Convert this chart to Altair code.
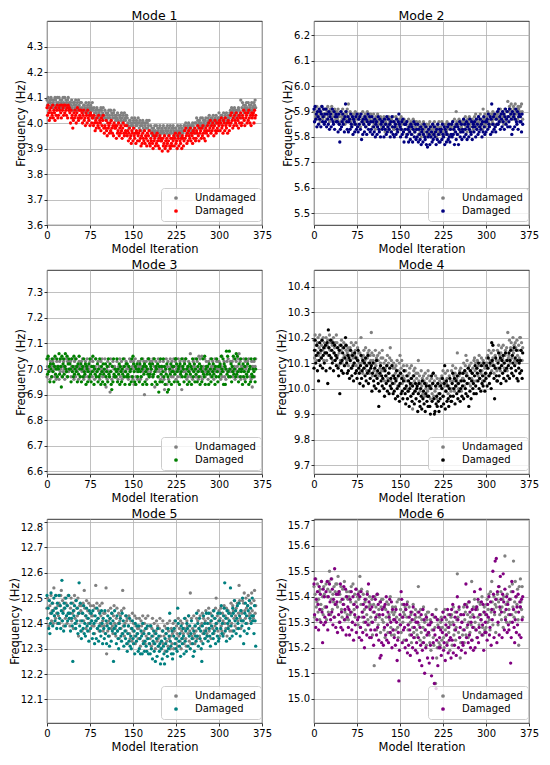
import altair as alt
import pandas as pd

x_ticks = [0, 75, 150, 225, 300, 375]

mode1_undamaged = [
    4.09, 4.07, 4.10, 4.08, 4.06, 4.09, 4.08, 4.10, 4.07, 4.09, 4.06, 4.08, 4.09, 4.07, 4.10, 4.09, 4.07, 4.08, 4.10, 4.06,
    4.08, 4.10, 4.07, 4.09, 4.06, 4.08, 4.09, 4.07, 4.10, 4.08, 4.07, 4.10, 4.06, 4.09, 4.08, 4.07, 4.09, 4.10, 4.07, 4.08,
    4.06, 4.08, 4.07, 4.09, 4.06, 4.05, 4.08, 4.07, 4.08, 4.06, 4.09, 4.07, 4.05, 4.08, 4.06, 4.09, 4.07, 4.06, 4.08, 4.08,
    4.08, 4.06, 4.05, 4.04, 4.07, 4.07, 4.06, 4.05, 4.08, 4.05, 4.06, 4.07, 4.04, 4.08, 4.06, 4.05, 4.07, 4.05, 4.06, 4.08,
    4.05, 4.03, 4.06, 4.04, 4.02, 4.05, 4.04, 4.06, 4.03, 4.05, 4.02, 4.04, 4.05, 4.03, 4.06, 4.05, 4.03, 4.04, 4.06, 4.02,
    4.03, 4.05, 4.02, 4.04, 4.01, 4.03, 4.04, 4.02, 4.05, 4.03, 4.02, 4.05, 4.01, 4.04, 4.03, 4.02, 4.04, 4.05, 4.02, 4.03,
    4.01, 4.03, 4.02, 4.04, 4.01, 4.00, 4.03, 4.02, 4.03, 4.01, 4.04, 4.02, 4.00, 4.03, 4.01, 4.04, 4.02, 4.01, 4.03, 4.03,
    4.02, 4.00, 3.99, 3.98, 4.01, 4.01, 4.00, 3.99, 4.02, 3.99, 4.00, 4.01, 3.98, 4.02, 4.00, 3.99, 4.01, 3.99, 4.00, 4.02,
    4.00, 3.98, 4.01, 3.99, 3.97, 4.00, 3.99, 4.01, 3.98, 4.00, 3.97, 3.99, 4.00, 3.98, 4.01, 4.00, 3.98, 3.99, 4.01, 3.97,
    3.97, 3.99, 3.96, 3.98, 3.95, 3.97, 3.98, 3.96, 3.99, 3.97, 3.96, 3.99, 3.95, 3.98, 3.97, 3.96, 3.98, 3.99, 3.96, 3.97,
    3.96, 3.98, 3.97, 3.99, 3.96, 3.95, 3.98, 3.97, 3.98, 3.96, 3.99, 3.97, 3.95, 3.98, 3.96, 3.99, 3.97, 3.96, 3.98, 3.98,
    3.99, 3.97, 3.96, 3.95, 3.98, 3.98, 3.97, 3.96, 3.99, 3.96, 3.97, 3.98, 3.95, 3.99, 3.97, 3.96, 3.98, 3.96, 3.97, 3.99,
    3.99, 3.97, 4.00, 3.98, 3.96, 3.99, 3.98, 4.00, 3.97, 3.99, 3.96, 3.98, 3.99, 3.97, 4.00, 3.99, 3.97, 3.98, 4.00, 3.96,
    4.00, 4.02, 3.99, 4.01, 3.98, 4.00, 4.01, 3.99, 4.02, 4.00, 3.99, 4.02, 3.98, 4.01, 4.00, 3.99, 4.01, 4.02, 3.99, 4.00,
    4.00, 4.02, 4.01, 4.03, 4.00, 3.99, 4.02, 4.01, 4.02, 4.00, 4.03, 4.01, 3.99, 4.02, 4.00, 4.03, 4.01, 4.00, 4.02, 4.02,
    4.04, 4.02, 4.01, 4.00, 4.03, 4.03, 4.02, 4.01, 4.04, 4.01, 4.02, 4.03, 4.00, 4.04, 4.02, 4.01, 4.03, 4.01, 4.02, 4.04,
    4.05, 4.03, 4.06, 4.04, 4.02, 4.05, 4.04, 4.06, 4.03, 4.05, 4.02, 4.04, 4.05, 4.03, 4.06, 4.05, 4.03, 4.04, 4.09, 4.02,
    4.06, 4.08, 4.05, 4.07, 4.04, 4.06, 4.07, 4.05, 4.08, 4.06, 4.05, 4.08, 4.04, 4.07, 4.06, 4.05, 4.07, 4.08, 4.05, 4.06,
    4.06, 4.08, 4.07, 4.09, 4.06,
]

mode1_damaged = [
    4.06, 4.03, 4.07, 4.04, 4.01, 4.05, 4.02, 4.06, 4.04, 4.03, 4.07, 4.02, 4.05, 4.04, 4.01, 4.06, 4.03, 4.05, 4.07, 4.02,
    4.03, 4.06, 4.05, 4.07, 4.04, 4.02, 4.07, 4.05, 4.06, 4.03, 4.07, 4.04, 4.07, 4.05, 4.03, 4.06, 4.02, 4.07, 4.05, 4.06,
    4.04, 4.00, 4.05, 4.02, 4.03, 3.98, 4.01, 4.04, 4.02, 4.05, 4.03, 4.00, 4.04, 4.06, 4.02, 4.01, 4.05, 4.03, 4.02, 4.05,
    4.02, 4.04, 4.00, 4.03, 4.05, 4.01, 4.02, 3.99, 4.04, 4.03, 4.00, 4.05, 4.02, 4.01, 4.03, 3.99, 4.04, 4.03, 4.00, 4.02,
    4.02, 3.99, 4.03, 4.00, 3.97, 4.01, 3.98, 4.02, 4.00, 3.99, 4.03, 3.98, 4.01, 4.00, 3.97, 4.02, 3.99, 4.01, 4.03, 3.98,
    3.96, 3.99, 3.98, 4.01, 3.97, 3.95, 4.00, 3.98, 3.99, 3.96, 4.00, 3.97, 4.01, 3.98, 3.96, 3.99, 3.95, 4.00, 3.98, 3.99,
    3.98, 3.94, 3.99, 3.96, 3.97, 4.00, 3.95, 3.98, 3.96, 3.99, 3.97, 3.94, 3.98, 4.00, 3.96, 3.95, 3.99, 3.97, 3.96, 3.99,
    3.95, 3.97, 3.93, 3.96, 3.98, 3.94, 3.95, 3.92, 3.97, 3.96, 3.93, 3.98, 3.95, 3.94, 3.96, 3.92, 3.97, 3.96, 3.93, 3.95,
    3.96, 3.93, 3.97, 3.94, 3.91, 3.95, 3.92, 3.96, 3.94, 3.93, 3.97, 3.92, 3.95, 3.94, 3.91, 3.96, 3.93, 3.95, 3.97, 3.92,
    3.91, 3.94, 3.93, 3.96, 3.92, 3.90, 3.95, 3.93, 3.94, 3.91, 3.95, 3.92, 3.96, 3.93, 3.91, 3.94, 3.90, 3.95, 3.93, 3.94,
    3.93, 3.89, 3.94, 3.91, 3.92, 3.95, 3.90, 3.93, 3.91, 3.94, 3.92, 3.89, 3.93, 3.95, 3.91, 3.90, 3.94, 3.92, 3.91, 3.94,
    3.93, 3.95, 3.91, 3.94, 3.96, 3.92, 3.93, 3.90, 3.95, 3.94, 3.91, 3.96, 3.93, 3.92, 3.94, 3.90, 3.95, 3.94, 3.91, 3.93,
    3.97, 3.94, 3.98, 3.95, 3.92, 3.96, 3.93, 3.97, 3.95, 3.94, 3.98, 3.93, 3.96, 3.95, 3.92, 3.97, 3.94, 3.96, 3.98, 3.93,
    3.94, 3.97, 3.96, 3.99, 3.95, 3.93, 3.98, 3.96, 3.97, 3.94, 3.98, 3.95, 3.99, 3.96, 3.94, 3.97, 3.93, 3.98, 3.96, 3.97,
    3.99, 3.95, 4.00, 3.97, 3.98, 4.01, 3.96, 3.99, 3.97, 4.00, 3.98, 3.95, 3.99, 4.01, 3.97, 3.96, 4.00, 3.98, 3.97, 4.00,
    3.99, 4.01, 3.97, 4.00, 4.02, 3.98, 3.99, 3.96, 4.01, 4.00, 3.97, 4.02, 3.99, 3.98, 4.00, 3.96, 4.01, 4.00, 3.97, 3.99,
    4.03, 4.00, 4.04, 4.01, 3.98, 4.02, 3.99, 4.03, 4.01, 4.00, 4.04, 3.99, 4.02, 4.01, 3.98, 4.03, 4.00, 4.02, 4.04, 3.99,
    4.00, 4.03, 4.02, 4.05, 4.01, 3.99, 4.04, 4.02, 4.03, 4.00, 4.04, 4.01, 4.05, 4.02, 4.00, 4.03, 3.99, 4.04, 4.02, 4.03,
    4.04, 4.00, 4.05, 4.02, 4.03,
]

mode2_undamaged = [
    5.90, 5.86, 5.91, 5.88, 5.89, 5.92, 5.87, 5.90, 5.88, 5.91, 5.89, 5.86, 5.90, 5.92, 5.88, 5.87, 5.91, 5.89, 5.88, 5.91,
    5.89, 5.91, 5.87, 5.90, 5.92, 5.88, 5.89, 5.86, 5.91, 5.90, 5.87, 5.92, 5.89, 5.88, 5.90, 5.86, 5.91, 5.90, 5.87, 5.89,
    5.90, 5.87, 5.91, 5.88, 5.85, 5.89, 5.86, 5.90, 5.88, 5.87, 5.91, 5.86, 5.89, 5.88, 5.85, 5.90, 5.87, 5.89, 5.91, 5.86,
    5.93, 5.88, 5.87, 5.90, 5.86, 5.84, 5.89, 5.87, 5.88, 5.85, 5.89, 5.86, 5.90, 5.87, 5.85, 5.88, 5.84, 5.89, 5.87, 5.88,
    5.88, 5.84, 5.89, 5.86, 5.87, 5.90, 5.85, 5.88, 5.86, 5.89, 5.87, 5.84, 5.88, 5.90, 5.86, 5.85, 5.89, 5.87, 5.86, 5.89,
    5.86, 5.88, 5.84, 5.87, 5.89, 5.85, 5.86, 5.83, 5.88, 5.87, 5.84, 5.89, 5.86, 5.85, 5.87, 5.83, 5.88, 5.87, 5.84, 5.86,
    5.87, 5.84, 5.88, 5.85, 5.82, 5.86, 5.83, 5.87, 5.85, 5.84, 5.88, 5.83, 5.86, 5.85, 5.82, 5.87, 5.84, 5.86, 5.88, 5.83,
    5.83, 5.86, 5.85, 5.88, 5.84, 5.82, 5.87, 5.85, 5.86, 5.83, 5.87, 5.84, 5.88, 5.85, 5.83, 5.86, 5.82, 5.87, 5.85, 5.86,
    5.85, 5.81, 5.86, 5.83, 5.84, 5.87, 5.82, 5.85, 5.83, 5.86, 5.84, 5.81, 5.85, 5.87, 5.83, 5.82, 5.86, 5.84, 5.83, 5.86,
    5.83, 5.85, 5.81, 5.84, 5.86, 5.82, 5.83, 5.80, 5.85, 5.84, 5.81, 5.86, 5.83, 5.82, 5.84, 5.80, 5.85, 5.84, 5.81, 5.83,
    5.85, 5.82, 5.86, 5.83, 5.80, 5.84, 5.81, 5.85, 5.83, 5.82, 5.86, 5.81, 5.84, 5.83, 5.80, 5.85, 5.82, 5.84, 5.86, 5.81,
    5.81, 5.84, 5.83, 5.86, 5.82, 5.80, 5.85, 5.83, 5.84, 5.81, 5.85, 5.82, 5.86, 5.83, 5.81, 5.84, 5.80, 5.85, 5.83, 5.84,
    5.85, 5.81, 5.86, 5.83, 5.84, 5.87, 5.82, 5.85, 5.90, 5.86, 5.84, 5.81, 5.85, 5.87, 5.83, 5.82, 5.86, 5.84, 5.83, 5.86,
    5.85, 5.87, 5.83, 5.86, 5.88, 5.84, 5.85, 5.82, 5.87, 5.86, 5.83, 5.88, 5.85, 5.84, 5.86, 5.82, 5.87, 5.86, 5.83, 5.85,
    5.88, 5.85, 5.89, 5.86, 5.83, 5.87, 5.84, 5.88, 5.86, 5.85, 5.89, 5.84, 5.87, 5.86, 5.83, 5.91, 5.85, 5.87, 5.89, 5.84,
    5.85, 5.88, 5.87, 5.90, 5.86, 5.84, 5.89, 5.87, 5.88, 5.85, 5.89, 5.86, 5.90, 5.87, 5.85, 5.88, 5.84, 5.89, 5.87, 5.88,
    5.89, 5.85, 5.90, 5.87, 5.88, 5.91, 5.86, 5.89, 5.87, 5.90, 5.88, 5.85, 5.89, 5.91, 5.87, 5.86, 5.90, 5.88, 5.94, 5.90,
    5.90, 5.92, 5.88, 5.91, 5.93, 5.89, 5.90, 5.87, 5.92, 5.91, 5.88, 5.93, 5.90, 5.89, 5.91, 5.87, 5.92, 5.91, 5.88, 5.90,
    5.92, 5.89, 5.93, 5.90, 5.87,
]

mode2_damaged = [
    5.91, 5.86, 5.92, 5.87, 5.89, 5.84, 5.90, 5.88, 5.85, 5.91, 5.87, 5.90, 5.84, 5.89, 5.92, 5.86, 5.88, 5.91, 5.85, 5.89,
    5.86, 5.91, 5.84, 5.89, 5.87, 5.85, 5.90, 5.83, 5.88, 5.89, 5.84, 5.87, 5.91, 5.86, 5.85, 5.90, 5.83, 5.88, 5.89, 5.86,
    5.88, 5.86, 5.82, 5.89, 5.85, 5.78, 5.83, 5.90, 5.84, 5.86, 5.89, 5.85, 5.87, 5.82, 5.88, 5.93, 5.90, 5.86, 5.83, 5.88,
    5.82, 5.86, 5.87, 5.83, 5.89, 5.85, 5.84, 5.88, 5.81, 5.87, 5.86, 5.82, 5.85, 5.88, 5.83, 5.89, 5.84, 5.82, 5.87, 5.85,
    5.88, 5.83, 5.89, 5.79, 5.86, 5.81, 5.87, 5.85, 5.82, 5.88, 5.84, 5.87, 5.81, 5.86, 5.89, 5.83, 5.85, 5.88, 5.82, 5.86,
    5.83, 5.88, 5.81, 5.86, 5.84, 5.82, 5.87, 5.80, 5.85, 5.86, 5.81, 5.84, 5.88, 5.83, 5.82, 5.87, 5.80, 5.85, 5.86, 5.83,
    5.86, 5.84, 5.80, 5.87, 5.83, 5.85, 5.81, 5.88, 5.82, 5.84, 5.87, 5.83, 5.85, 5.80, 5.86, 5.82, 5.88, 5.84, 5.81, 5.86,
    5.80, 5.84, 5.85, 5.81, 5.87, 5.83, 5.82, 5.86, 5.89, 5.85, 5.84, 5.80, 5.83, 5.86, 5.81, 5.87, 5.82, 5.78, 5.85, 5.83,
    5.85, 5.80, 5.86, 5.81, 5.83, 5.78, 5.84, 5.82, 5.79, 5.85, 5.81, 5.84, 5.78, 5.83, 5.86, 5.80, 5.82, 5.85, 5.79, 5.83,
    5.80, 5.85, 5.78, 5.83, 5.81, 5.79, 5.84, 5.77, 5.82, 5.83, 5.78, 5.81, 5.85, 5.80, 5.79, 5.84, 5.77, 5.82, 5.76, 5.80,
    5.83, 5.81, 5.77, 5.84, 5.80, 5.82, 5.78, 5.85, 5.79, 5.81, 5.84, 5.80, 5.82, 5.77, 5.83, 5.79, 5.85, 5.81, 5.78, 5.83,
    5.78, 5.82, 5.83, 5.79, 5.85, 5.81, 5.80, 5.84, 5.77, 5.83, 5.82, 5.78, 5.81, 5.84, 5.79, 5.85, 5.80, 5.78, 5.83, 5.81,
    5.85, 5.80, 5.86, 5.81, 5.83, 5.77, 5.84, 5.82, 5.79, 5.85, 5.81, 5.84, 5.77, 5.83, 5.86, 5.80, 5.82, 5.85, 5.79, 5.83,
    5.82, 5.87, 5.80, 5.85, 5.83, 5.81, 5.86, 5.79, 5.84, 5.85, 5.80, 5.83, 5.87, 5.82, 5.81, 5.86, 5.79, 5.84, 5.85, 5.82,
    5.86, 5.84, 5.80, 5.87, 5.83, 5.85, 5.81, 5.88, 5.82, 5.84, 5.87, 5.83, 5.85, 5.80, 5.86, 5.82, 5.88, 5.84, 5.81, 5.86,
    5.82, 5.86, 5.87, 5.83, 5.89, 5.85, 5.84, 5.88, 5.81, 5.87, 5.93, 5.82, 5.85, 5.88, 5.83, 5.89, 5.84, 5.82, 5.87, 5.85,
    5.90, 5.85, 5.91, 5.86, 5.88, 5.83, 5.89, 5.87, 5.84, 5.90, 5.86, 5.89, 5.83, 5.88, 5.91, 5.85, 5.87, 5.90, 5.84, 5.88,
    5.86, 5.91, 5.84, 5.89, 5.87, 5.81, 5.90, 5.83, 5.88, 5.89, 5.84, 5.87, 5.91, 5.86, 5.85, 5.90, 5.83, 5.88, 5.89, 5.86,
    5.88, 5.86, 5.82, 5.89, 5.85,
]

mode3_undamaged = [
    6.97, 7.01, 7.00, 7.04, 6.99, 6.96, 7.03, 7.00, 7.01, 6.97, 7.03, 6.99, 7.04, 7.00, 6.97, 7.01, 6.96, 7.03, 7.00, 7.01,
    7.01, 6.96, 7.03, 6.99, 7.00, 7.04, 6.97, 7.01, 6.99, 7.03, 7.00, 6.96, 7.01, 7.04, 6.99, 6.97, 7.03, 7.00, 6.99, 7.03,
    7.00, 7.03, 6.97, 7.01, 7.04, 6.99, 7.00, 6.96, 7.03, 7.01, 6.97, 7.04, 7.00, 6.99, 7.01, 6.96, 7.03, 7.01, 6.97, 7.00,
    7.03, 6.99, 7.04, 7.00, 6.96, 7.01, 6.97, 7.03, 7.00, 6.99, 7.04, 6.97, 7.01, 7.00, 6.96, 7.03, 6.99, 7.01, 7.04, 6.97,
    7.03, 6.99, 7.00, 6.96, 7.01, 7.04, 6.97, 7.00, 6.99, 7.03, 6.97, 7.01, 6.96, 7.00, 7.03, 6.99, 7.04, 6.97, 7.00, 6.99,
    6.99, 7.04, 6.97, 6.93, 7.00, 6.96, 7.03, 6.99, 7.01, 6.97, 6.91, 7.04, 6.99, 6.96, 7.01, 7.03, 6.97, 7.00, 7.01, 6.97,
    7.00, 6.97, 7.03, 6.99, 6.96, 7.01, 7.00, 7.04, 6.97, 6.99, 7.03, 6.96, 7.00, 7.01, 6.99, 7.04, 6.97, 6.99, 7.03, 7.00,
    6.97, 7.01, 6.96, 7.00, 7.04, 6.99, 7.03, 6.97, 7.00, 7.01, 6.96, 7.03, 6.94, 7.00, 7.04, 6.97, 7.01, 6.99, 6.96, 7.03,
    7.01, 7.00, 7.03, 6.96, 7.01, 6.97, 7.00, 7.04, 6.99, 7.03, 6.90, 7.01, 7.00, 7.03, 6.96, 6.99, 7.04, 7.00, 7.04, 6.97,
    7.03, 6.99, 7.00, 7.03, 6.97, 7.04, 7.04, 7.01, 6.93, 7.00, 7.03, 6.99, 7.01, 6.97, 7.04, 7.00, 6.99, 7.03, 6.96, 7.01,
    7.00, 6.97, 7.01, 7.03, 6.96, 6.92, 6.99, 7.00, 7.04, 6.94, 7.01, 7.03, 6.96, 7.00, 6.99, 7.04, 7.01, 6.97, 7.03, 7.00,
    6.97, 7.04, 7.01, 6.99, 7.03, 6.96, 7.00, 7.01, 6.97, 7.04, 6.99, 7.00, 7.03, 6.97, 7.01, 6.92, 7.00, 7.04, 6.99, 7.03,
    7.03, 6.99, 7.04, 7.00, 6.96, 7.01, 6.97, 7.03, 7.00, 6.99, 7.06, 6.97, 7.01, 7.00, 6.96, 7.03, 6.99, 7.01, 7.04, 6.97,
    7.00, 6.97, 7.03, 6.99, 6.96, 7.05, 7.00, 7.04, 6.97, 6.99, 7.05, 6.96, 7.00, 7.01, 6.99, 7.04, 6.97, 6.99, 7.03, 7.00,
    7.01, 6.96, 7.03, 6.99, 7.00, 7.04, 6.97, 7.01, 6.99, 7.03, 7.00, 6.96, 7.01, 7.04, 6.99, 6.97, 7.03, 7.00, 6.99, 7.03,
    7.03, 6.99, 7.00, 6.96, 7.01, 7.05, 6.97, 7.00, 6.99, 7.03, 6.97, 7.01, 6.96, 7.00, 7.03, 6.99, 7.04, 6.97, 7.00, 6.99,
    7.03, 6.99, 7.00, 7.03, 6.97, 6.99, 7.04, 7.01, 6.96, 7.00, 7.03, 6.99, 7.01, 6.97, 7.04, 7.06, 6.99, 7.03, 6.96, 7.01,
    6.97, 7.01, 7.00, 7.04, 6.99, 6.96, 7.03, 7.00, 7.01, 6.97, 7.03, 6.99, 7.04, 7.00, 6.97, 7.01, 6.96, 7.03, 6.93, 7.01,
    7.00, 7.03, 6.97, 7.01, 7.04,
]

mode3_damaged = [
    7.04, 6.98, 7.05, 6.99, 7.01, 6.95, 7.02, 7.00, 6.97, 7.04, 6.99, 7.02, 6.95, 7.01, 7.05, 6.98, 7.00, 7.04, 6.97, 7.01,
    7.00, 7.06, 6.98, 7.04, 7.01, 6.93, 7.05, 6.97, 7.02, 7.04, 6.98, 7.01, 7.06, 7.00, 6.99, 7.05, 6.97, 7.02, 7.04, 7.00,
    7.02, 7.00, 6.95, 7.04, 6.99, 7.01, 6.97, 7.05, 6.98, 7.00, 7.04, 6.99, 7.01, 6.95, 7.02, 6.98, 7.05, 7.00, 6.97, 7.02,
    6.95, 7.00, 7.01, 6.97, 7.04, 6.99, 6.98, 7.02, 6.94, 7.01, 7.00, 6.95, 6.99, 7.02, 6.97, 7.04, 6.98, 6.95, 7.01, 6.99,
    7.05, 7.01, 6.94, 7.00, 6.98, 7.04, 6.97, 6.99, 7.02, 6.95, 7.00, 6.97, 7.04, 6.98, 6.94, 7.01, 6.99, 6.95, 7.02, 6.98,
    7.00, 6.94, 7.02, 6.97, 6.99, 7.01, 6.95, 7.04, 6.98, 6.97, 7.02, 6.99, 6.94, 6.92, 7.01, 6.95, 7.04, 6.98, 6.97, 7.00,
    6.97, 6.99, 7.04, 6.95, 7.00, 6.98, 7.02, 6.94, 7.01, 6.99, 6.95, 7.00, 6.98, 7.04, 6.97, 7.01, 6.94, 6.99, 7.02, 6.97,
    7.02, 6.98, 6.97, 7.01, 6.94, 6.99, 7.00, 6.95, 7.04, 6.97, 7.05, 7.02, 6.99, 6.95, 7.01, 6.94, 7.00, 7.02, 6.97, 6.99,
    7.00, 6.95, 7.02, 6.99, 6.97, 7.04, 7.00, 6.94, 7.01, 6.98, 7.02, 6.95, 6.99, 7.01, 6.94, 7.00, 6.98, 7.04, 6.97, 7.02,
    6.98, 7.01, 7.00, 6.94, 7.02, 6.97, 6.98, 7.04, 6.99, 6.95, 7.01, 7.00, 6.94, 7.02, 6.97, 6.91, 7.01, 6.95, 7.04, 6.98,
    7.01, 6.95, 6.99, 7.04, 6.97, 7.01, 6.94, 7.00, 6.98, 7.02, 6.91, 6.97, 6.92, 6.95, 7.00, 6.98, 7.02, 6.94, 6.99, 7.01,
    6.99, 7.01, 6.95, 6.98, 7.04, 7.04, 7.02, 6.99, 6.95, 7.00, 7.01, 6.94, 7.02, 6.98, 6.99, 7.04, 6.97, 7.01, 7.00, 6.95,
    7.02, 6.97, 7.04, 6.98, 7.00, 6.94, 7.01, 6.99, 6.95, 7.02, 6.98, 7.01, 6.94, 7.00, 7.04, 6.97, 6.99, 7.02, 6.95, 7.00,
    6.98, 7.04, 6.95, 7.01, 6.99, 6.97, 7.02, 6.94, 7.00, 7.01, 6.95, 6.99, 7.04, 6.98, 6.97, 7.05, 6.94, 7.00, 7.01, 6.98,
    7.01, 6.99, 6.94, 7.02, 6.98, 7.00, 6.95, 7.04, 6.97, 6.99, 7.02, 6.98, 7.00, 6.94, 7.01, 6.97, 7.04, 6.99, 6.95, 7.01,
    6.97, 7.01, 7.02, 6.98, 7.05, 7.00, 6.99, 7.04, 6.94, 7.02, 7.01, 6.94, 7.00, 7.07, 6.98, 7.05, 6.99, 6.97, 7.07, 7.00,
    6.97, 7.02, 6.95, 7.01, 6.99, 7.05, 6.98, 7.00, 7.04, 6.97, 7.06, 6.98, 7.05, 6.99, 6.95, 7.02, 7.00, 6.97, 7.04, 6.99,
    7.00, 6.94, 7.02, 6.97, 6.99, 7.01, 6.95, 7.04, 6.98, 6.97, 7.02, 6.99, 6.94, 7.00, 7.01, 6.95, 7.04, 6.98, 6.97, 7.00,
    6.97, 6.99, 7.04, 6.95, 7.00,
]

mode4_undamaged = [
    10.19, 10.12, 10.21, 10.15, 10.17, 10.11, 10.18, 10.20, 10.13, 10.16, 10.21, 10.14, 10.12, 10.17, 10.19, 10.15, 10.20, 10.11, 10.18, 10.16,
    10.14, 10.20, 10.11, 10.17, 10.19, 10.13, 10.16, 10.21, 10.15, 10.18, 10.12, 10.19, 10.17, 10.11, 10.20, 10.14, 10.16, 10.18, 10.13, 10.21,
    10.18, 10.13, 10.16, 10.09, 10.14, 10.17, 10.11, 10.15, 10.19, 10.10, 10.16, 10.12, 10.18, 10.13, 10.09, 10.17, 10.15, 10.11, 10.14, 10.16,
    10.09, 10.15, 10.13, 10.16, 10.11, 10.18, 10.08, 10.14, 10.12, 10.17, 10.10, 10.13, 10.15, 10.18, 10.09, 10.12, 10.16, 10.11, 10.14, 10.10,
    10.14, 10.07, 10.20, 10.10, 10.12, 10.06, 10.13, 10.15, 10.08, 10.11, 10.16, 10.09, 10.07, 10.12, 10.14, 10.10, 10.15, 10.06, 10.13, 10.11,
    10.22, 10.14, 10.05, 10.11, 10.13, 10.07, 10.10, 10.15, 10.09, 10.12, 10.06, 10.13, 10.11, 10.05, 10.14, 10.08, 10.10, 10.12, 10.07, 10.15,
    10.12, 10.07, 10.10, 10.03, 10.08, 10.11, 10.05, 10.09, 10.13, 10.04, 10.10, 10.06, 10.12, 10.16, 10.03, 10.11, 10.09, 10.05, 10.08, 10.10,
    10.02, 10.08, 10.06, 10.09, 10.04, 10.11, 10.01, 10.07, 10.05, 10.10, 10.13, 10.06, 10.08, 10.11, 10.02, 10.05, 10.09, 10.04, 10.07, 10.03,
    10.07, 10.00, 10.09, 10.03, 10.05, 9.99, 10.06, 10.08, 10.01, 10.04, 10.09, 10.02, 9.92, 10.05, 10.07, 10.03, 10.08, 9.99, 10.06, 10.04,
    10.00, 10.06, 10.11, 10.03, 10.05, 9.99, 10.02, 10.07, 10.01, 10.04, 9.98, 10.05, 10.03, 9.97, 10.06, 10.00, 10.02, 10.04, 9.99, 10.07,
    10.05, 10.00, 10.03, 9.96, 10.01, 10.04, 9.98, 10.02, 10.06, 9.97, 10.03, 9.99, 10.05, 10.00, 9.96, 10.04, 10.02, 9.98, 10.01, 10.03,
    9.98, 10.04, 10.02, 10.05, 10.00, 10.07, 9.97, 10.03, 10.01, 10.06, 9.99, 10.02, 10.04, 10.07, 9.98, 10.01, 10.05, 10.00, 10.03, 9.99,
    10.07, 10.00, 10.09, 10.03, 10.05, 9.99, 10.06, 10.08, 10.01, 10.04, 10.14, 10.02, 10.00, 10.05, 10.07, 10.03, 10.08, 9.99, 10.06, 10.04,
    10.04, 10.10, 10.01, 10.07, 10.09, 10.13, 10.06, 10.11, 10.05, 10.08, 10.02, 10.09, 10.07, 10.01, 10.10, 10.04, 10.06, 10.08, 10.03, 10.11,
    10.12, 10.07, 10.10, 10.03, 10.08, 10.11, 10.05, 10.09, 10.13, 10.04, 10.10, 10.06, 10.12, 10.07, 10.03, 10.11, 10.09, 10.05, 10.08, 10.10,
    10.06, 10.12, 10.10, 10.13, 10.08, 10.15, 10.05, 10.11, 10.09, 10.14, 10.07, 10.10, 10.12, 10.15, 10.06, 10.09, 10.13, 10.08, 10.11, 10.07,
    10.15, 10.08, 10.17, 10.11, 10.13, 10.07, 10.14, 10.16, 10.09, 10.12, 10.17, 10.10, 10.08, 10.13, 10.15, 10.11, 10.16, 10.07, 10.22, 10.12,
    10.13, 10.19, 10.10, 10.16, 10.18, 10.12, 10.15, 10.20, 10.14, 10.17, 10.11, 10.18, 10.16, 10.10, 10.19, 10.13, 10.15, 10.17, 10.12, 10.20,
    10.20, 10.15, 10.18, 10.11, 10.16,
]

mode4_damaged = [
    10.08, 10.15, 10.19, 10.10, 10.13, 10.17, 10.07, 10.14, 10.03, 10.11, 10.18, 10.09, 10.15, 10.12, 10.19, 10.08, 10.13, 10.16, 10.10, 10.14,
    10.17, 10.07, 10.14, 10.18, 10.02, 10.23, 10.16, 10.13, 10.08, 10.19, 10.12, 10.15, 10.10, 10.18, 10.07, 10.14, 10.17, 10.11, 10.13, 10.09,
    10.12, 10.16, 10.08, 10.05, 10.15, 9.98, 10.10, 10.17, 10.07, 10.11, 10.14, 10.06, 10.16, 10.09, 10.12, 10.20, 10.17, 10.10, 10.06, 10.13,
    10.07, 10.12, 10.04, 10.11, 10.15, 10.08, 10.05, 10.13, 10.09, 10.03, 10.10, 10.14, 10.06, 10.12, 10.07, 10.04, 10.11, 10.15, 10.08, 10.06,
    10.02, 10.09, 10.13, 10.04, 10.07, 10.11, 10.01, 10.08, 10.10, 10.05, 10.12, 10.03, 10.09, 10.06, 10.13, 10.02, 10.07, 10.10, 10.04, 10.08,
    10.09, 9.99, 10.06, 10.10, 10.03, 10.01, 10.08, 10.05, 10.00, 10.11, 10.04, 10.07, 10.02, 9.93, 9.99, 10.06, 10.09, 10.03, 10.05, 10.01,
    10.04, 10.08, 10.00, 9.97, 10.07, 10.05, 10.02, 10.09, 9.99, 10.03, 10.06, 9.98, 10.08, 10.01, 10.04, 10.00, 10.09, 10.02, 9.98, 10.05,
    9.99, 10.04, 9.96, 10.03, 10.07, 10.00, 9.97, 10.05, 10.01, 9.95, 10.02, 10.06, 9.98, 10.04, 9.99, 9.96, 10.03, 10.07, 10.00, 9.98,
    9.94, 10.01, 10.05, 9.96, 9.99, 10.03, 9.93, 10.00, 10.02, 9.97, 10.04, 9.95, 10.01, 9.98, 10.05, 9.94, 9.99, 10.02, 9.96, 10.00,
    10.01, 9.91, 9.98, 10.02, 9.95, 9.93, 10.00, 9.97, 9.92, 10.03, 9.96, 9.99, 9.94, 10.02, 9.91, 9.98, 10.01, 9.95, 9.97, 9.93,
    9.97, 10.01, 9.93, 9.90, 10.00, 10.05, 9.95, 10.02, 10.06, 9.96, 9.90, 9.91, 10.01, 9.94, 9.97, 9.93, 10.02, 9.95, 9.91, 9.98,
    9.96, 10.01, 9.93, 10.00, 10.04, 9.97, 9.94, 10.02, 10.09, 9.92, 9.99, 10.03, 9.95, 10.01, 9.96, 9.93, 10.00, 10.04, 9.97, 9.95,
    9.95, 10.02, 10.06, 9.97, 10.00, 10.04, 9.94, 10.01, 10.03, 9.98, 10.05, 9.96, 10.02, 9.99, 10.06, 9.95, 10.00, 10.03, 9.97, 10.01,
    10.06, 9.96, 10.03, 10.07, 10.00, 9.98, 10.05, 10.02, 9.97, 10.08, 9.93, 10.04, 9.99, 10.07, 9.96, 10.03, 10.06, 10.00, 10.02, 9.98,
    10.05, 10.09, 10.01, 9.98, 10.08, 10.06, 10.03, 10.10, 10.00, 10.04, 10.07, 9.99, 10.09, 10.02, 10.05, 10.01, 10.10, 10.03, 9.99, 10.06,
    10.04, 10.09, 10.01, 10.08, 10.12, 10.05, 10.02, 10.10, 10.06, 10.00, 10.18, 10.11, 10.17, 10.09, 10.04, 9.96, 10.08, 10.12, 10.05, 10.03,
    10.03, 10.10, 10.14, 10.05, 10.08, 10.12, 10.02, 10.09, 10.11, 10.06, 10.13, 10.04, 10.10, 10.07, 10.14, 10.03, 10.08, 10.11, 10.05, 10.09,
    10.14, 10.04, 10.11, 10.15, 10.08, 10.06, 10.13, 10.10, 10.05, 10.16, 10.09, 10.12, 10.07, 10.15, 10.04, 10.11, 10.03, 10.08, 10.10, 10.06,
    10.11, 10.15, 10.07, 10.04, 10.14,
]

mode5_undamaged = [
    12.46, 12.50, 12.42, 12.39, 12.49, 12.47, 12.44, 12.51, 12.41, 12.45, 12.48, 12.40, 12.54, 12.43, 12.46, 12.42, 12.51, 12.44, 12.40, 12.47,
    12.43, 12.48, 12.40, 12.47, 12.51, 12.53, 12.41, 12.49, 12.45, 12.39, 12.46, 12.50, 12.42, 12.48, 12.43, 12.40, 12.47, 12.51, 12.44, 12.42,
    12.39, 12.46, 12.50, 12.41, 12.44, 12.48, 12.38, 12.45, 12.51, 12.42, 12.49, 12.40, 12.46, 12.43, 12.50, 12.35, 12.44, 12.47, 12.41, 12.45,
    12.47, 12.37, 12.44, 12.48, 12.41, 12.53, 12.46, 12.43, 12.38, 12.49, 12.42, 12.45, 12.40, 12.48, 12.37, 12.44, 12.47, 12.41, 12.43, 12.39,
    12.43, 12.47, 12.39, 12.36, 12.46, 12.55, 12.41, 12.48, 12.38, 12.42, 12.45, 12.37, 12.47, 12.40, 12.43, 12.39, 12.48, 12.41, 12.37, 12.44,
    12.39, 12.44, 12.36, 12.54, 12.28, 12.40, 12.37, 12.45, 12.41, 12.35, 12.42, 12.46, 12.38, 12.44, 12.39, 12.36, 12.43, 12.47, 12.40, 12.38,
    12.35, 12.42, 12.46, 12.37, 12.40, 12.44, 12.34, 12.41, 12.43, 12.38, 12.45, 12.36, 12.53, 12.39, 12.46, 12.35, 12.40, 12.43, 12.37, 12.41,
    12.42, 12.32, 12.39, 12.43, 12.36, 12.34, 12.41, 12.38, 12.33, 12.44, 12.37, 12.40, 12.35, 12.43, 12.32, 12.39, 12.42, 12.36, 12.38, 12.34,
    12.38, 12.42, 12.34, 12.31, 12.41, 12.39, 12.36, 12.43, 12.33, 12.37, 12.40, 12.32, 12.42, 12.35, 12.38, 12.34, 12.43, 12.36, 12.32, 12.39,
    12.34, 12.39, 12.31, 12.38, 12.42, 12.35, 12.32, 12.40, 12.36, 12.30, 12.37, 12.41, 12.33, 12.39, 12.34, 12.31, 12.38, 12.42, 12.35, 12.33,
    12.30, 12.37, 12.41, 12.32, 12.35, 12.39, 12.29, 12.36, 12.38, 12.33, 12.40, 12.31, 12.37, 12.34, 12.41, 12.30, 12.35, 12.38, 12.32, 12.36,
    12.40, 12.30, 12.37, 12.41, 12.34, 12.32, 12.39, 12.36, 12.31, 12.42, 12.35, 12.38, 12.33, 12.41, 12.30, 12.37, 12.40, 12.34, 12.36, 12.32,
    12.38, 12.42, 12.34, 12.31, 12.41, 12.39, 12.36, 12.43, 12.33, 12.37, 12.52, 12.32, 12.42, 12.35, 12.38, 12.34, 12.43, 12.36, 12.32, 12.39,
    12.37, 12.42, 12.34, 12.41, 12.45, 12.38, 12.35, 12.43, 12.39, 12.33, 12.40, 12.44, 12.36, 12.42, 12.37, 12.34, 12.41, 12.45, 12.38, 12.36,
    12.35, 12.42, 12.46, 12.37, 12.40, 12.44, 12.34, 12.41, 12.43, 12.38, 12.45, 12.36, 12.42, 12.39, 12.46, 12.50, 12.40, 12.43, 12.37, 12.41,
    12.45, 12.35, 12.42, 12.46, 12.39, 12.37, 12.44, 12.41, 12.36, 12.47, 12.40, 12.43, 12.38, 12.46, 12.35, 12.42, 12.45, 12.39, 12.41, 12.37,
    12.44, 12.48, 12.40, 12.37, 12.47, 12.45, 12.42, 12.49, 12.39, 12.43, 12.46, 12.38, 12.48, 12.41, 12.44, 12.55, 12.49, 12.42, 12.38, 12.45,
    12.44, 12.49, 12.41, 12.48, 12.52, 12.45, 12.42, 12.50, 12.46, 12.40, 12.47, 12.51, 12.43, 12.49, 12.44, 12.41, 12.48, 12.52, 12.45, 12.43,
    12.42, 12.49, 12.53, 12.44, 12.47,
]

mode5_damaged = [
    12.51, 12.42, 12.46, 12.38, 12.49, 12.36, 12.40, 12.52, 12.44, 12.48, 12.39, 12.45, 12.50, 12.43, 12.41, 12.51, 12.46, 12.38, 12.48, 12.44,
    12.40, 12.51, 12.42, 12.47, 12.38, 12.45, 12.57, 12.41, 12.44, 12.37, 12.48, 12.46, 12.39, 12.50, 12.43, 12.47, 12.41, 12.44, 12.51, 12.42,
    12.44, 12.37, 12.48, 12.42, 12.39, 12.25, 12.45, 12.43, 12.47, 12.40, 12.38, 12.49, 12.41, 12.46, 12.36, 12.44, 12.56, 12.39, 12.48, 12.37,
    12.34, 12.41, 12.44, 12.38, 12.47, 12.36, 12.40, 12.35, 12.43, 12.46, 12.39, 12.37, 12.42, 12.33, 12.45, 12.40, 12.38, 12.44, 12.41, 12.34,
    12.45, 12.36, 12.40, 12.32, 12.43, 12.41, 12.34, 12.46, 12.38, 12.42, 12.33, 12.39, 12.44, 12.37, 12.35, 12.45, 12.40, 12.32, 12.42, 12.38,
    12.34, 12.45, 12.36, 12.41, 12.32, 12.39, 12.43, 12.35, 12.38, 12.31, 12.42, 12.40, 12.33, 12.44, 12.37, 12.41, 12.25, 12.38, 12.45, 12.36,
    12.39, 12.32, 12.43, 12.37, 12.34, 12.30, 12.40, 12.38, 12.42, 12.35, 12.33, 12.44, 12.36, 12.41, 12.31, 12.39, 12.37, 12.34, 12.43, 12.32,
    12.29, 12.36, 12.39, 12.33, 12.42, 12.31, 12.35, 12.30, 12.38, 12.41, 12.34, 12.32, 12.37, 12.28, 12.40, 12.35, 12.33, 12.39, 12.36, 12.29,
    12.39, 12.30, 12.34, 12.28, 12.37, 12.35, 12.28, 12.40, 12.32, 12.36, 12.29, 12.33, 12.38, 12.31, 12.29, 12.39, 12.34, 12.28, 12.36, 12.32,
    12.28, 12.39, 12.30, 12.35, 12.26, 12.33, 12.37, 12.29, 12.32, 12.25, 12.36, 12.34, 12.27, 12.38, 12.31, 12.35, 12.29, 12.32, 12.24, 12.30,
    12.33, 12.26, 12.37, 12.31, 12.28, 12.24, 12.34, 12.32, 12.36, 12.29, 12.27, 12.38, 12.30, 12.35, 12.44, 12.33, 12.31, 12.28, 12.37, 12.26,
    12.28, 12.35, 12.38, 12.32, 12.41, 12.30, 12.34, 12.29, 12.46, 12.40, 12.33, 12.31, 12.36, 12.27, 12.39, 12.34, 12.32, 12.38, 12.35, 12.28,
    12.42, 12.33, 12.37, 12.29, 12.40, 12.38, 12.31, 12.43, 12.35, 12.39, 12.30, 12.36, 12.41, 12.34, 12.32, 12.27, 12.37, 12.29, 12.39, 12.35,
    12.33, 12.44, 12.35, 12.40, 12.31, 12.38, 12.42, 12.34, 12.37, 12.30, 12.25, 12.39, 12.32, 12.43, 12.36, 12.40, 12.34, 12.37, 12.44, 12.35,
    12.40, 12.33, 12.44, 12.38, 12.35, 12.31, 12.41, 12.39, 12.43, 12.36, 12.34, 12.45, 12.37, 12.42, 12.32, 12.40, 12.38, 12.35, 12.44, 12.33,
    12.34, 12.41, 12.44, 12.38, 12.47, 12.36, 12.40, 12.35, 12.43, 12.46, 12.56, 12.37, 12.42, 12.33, 12.45, 12.40, 12.38, 12.44, 12.41, 12.34,
    12.54, 12.39, 12.43, 12.35, 12.46, 12.44, 12.37, 12.49, 12.41, 12.45, 12.36, 12.42, 12.47, 12.40, 12.38, 12.48, 12.43, 12.35, 12.45, 12.41,
    12.39, 12.50, 12.41, 12.32, 12.37, 12.44, 12.48, 12.40, 12.43, 12.36, 12.47, 12.45, 12.38, 12.49, 12.42, 12.46, 12.40, 12.43, 12.50, 12.41,
    12.43, 12.36, 12.47, 12.41, 12.31,
]

mode6_undamaged = [
    15.44, 15.32, 15.41, 15.47, 15.36, 15.38, 15.45, 15.34, 15.39, 15.42, 15.31, 15.43, 15.37, 15.46, 15.35, 15.40, 15.33, 15.44, 15.41, 15.36,
    15.36, 15.45, 15.31, 15.40, 15.43, 15.34, 15.46, 15.50, 15.42, 15.33, 15.39, 15.47, 15.35, 15.41, 15.38, 15.44, 15.32, 15.42, 15.45, 15.37,
    15.45, 15.36, 15.48, 15.42, 15.30, 15.41, 15.38, 15.44, 15.35, 15.32, 15.43, 15.39, 15.37, 15.46, 15.34, 15.31, 15.40, 15.42, 15.33, 15.39,
    15.31, 15.40, 15.42, 15.33, 15.38, 15.44, 15.34, 15.30, 15.45, 15.37, 15.35, 15.41, 15.32, 15.38, 15.43, 15.36, 15.40, 15.29, 15.39, 15.42,
    15.48, 15.28, 15.37, 15.43, 15.32, 15.34, 15.41, 15.30, 15.35, 15.38, 15.27, 15.39, 15.33, 15.42, 15.31, 15.36, 15.29, 15.40, 15.37, 15.32,
    15.30, 15.39, 15.25, 15.34, 15.37, 15.13, 15.40, 15.31, 15.36, 15.27, 15.33, 15.41, 15.29, 15.35, 15.32, 15.38, 15.26, 15.36, 15.39, 15.31,
    15.39, 15.30, 15.27, 15.36, 15.24, 15.35, 15.32, 15.38, 15.29, 15.26, 15.37, 15.33, 15.31, 15.40, 15.28, 15.25, 15.34, 15.36, 15.27, 15.33,
    15.25, 15.34, 15.36, 15.27, 15.32, 15.38, 15.28, 15.24, 15.39, 15.31, 15.29, 15.35, 15.26, 15.32, 15.37, 15.30, 15.34, 15.23, 15.33, 15.36,
    15.35, 15.23, 15.32, 15.38, 15.27, 15.29, 15.36, 15.25, 15.30, 15.33, 15.22, 15.34, 15.28, 15.37, 15.26, 15.31, 15.24, 15.35, 15.32, 15.27,
    15.25, 15.34, 15.44, 15.29, 15.32, 15.23, 15.35, 15.26, 15.31, 15.22, 15.28, 15.36, 15.24, 15.30, 15.27, 15.33, 15.21, 15.31, 15.34, 15.26,
    15.34, 15.25, 15.22, 15.31, 15.19, 15.30, 15.27, 15.33, 15.24, 15.21, 15.32, 15.28, 15.06, 15.35, 15.16, 15.20, 15.29, 15.31, 15.22, 15.28,
    15.21, 15.30, 15.32, 15.23, 15.28, 15.34, 15.24, 15.20, 15.35, 15.27, 15.25, 15.31, 15.22, 15.28, 15.33, 15.26, 15.30, 15.19, 15.29, 15.32,
    15.33, 15.21, 15.30, 15.36, 15.25, 15.27, 15.34, 15.23, 15.28, 15.31, 15.49, 15.32, 15.26, 15.35, 15.24, 15.16, 15.22, 15.33, 15.30, 15.25,
    15.27, 15.36, 15.22, 15.31, 15.34, 15.25, 15.37, 15.28, 15.33, 15.24, 15.30, 15.38, 15.26, 15.32, 15.29, 15.46, 15.23, 15.33, 15.36, 15.28,
    15.39, 15.30, 15.27, 15.36, 15.24, 15.35, 15.32, 15.38, 15.29, 15.26, 15.37, 15.33, 15.31, 15.40, 15.28, 15.25, 15.34, 15.36, 15.27, 15.33,
    15.28, 15.37, 15.39, 15.30, 15.35, 15.41, 15.31, 15.27, 15.42, 15.34, 15.46, 15.38, 15.29, 15.35, 15.40, 15.33, 15.37, 15.26, 15.36, 15.39,
    15.41, 15.29, 15.38, 15.44, 15.33, 15.35, 15.42, 15.31, 15.36, 15.39, 15.28, 15.40, 15.34, 15.56, 15.32, 15.37, 15.30, 15.41, 15.38, 15.33,
    15.35, 15.44, 15.30, 15.39, 15.42, 15.33, 15.45, 15.36, 15.54, 15.32, 15.38, 15.46, 15.34, 15.40, 15.37, 15.43, 15.31, 15.21, 15.44, 15.36,
    15.47, 15.38, 15.35, 15.44, 15.32,
]

mode6_damaged = [
    15.45, 15.33, 15.47, 15.28, 15.39, 15.31, 15.42, 15.37, 15.27, 15.44, 15.35, 15.41, 15.30, 15.46, 15.34, 15.22, 15.43, 15.29, 15.40, 15.32,
    15.30, 15.42, 15.36, 15.46, 15.27, 15.40, 15.33, 15.45, 15.38, 15.31, 15.47, 15.34, 15.43, 15.29, 15.39, 15.32, 15.51, 15.37, 15.28, 15.41,
    15.38, 15.26, 15.41, 15.33, 15.42, 15.30, 15.45, 15.28, 15.34, 15.39, 15.27, 15.37, 15.44, 15.31, 15.35, 15.43, 15.25, 15.40, 15.32, 15.36,
    15.28, 15.35, 15.25, 15.39, 15.34, 15.42, 15.27, 15.30, 15.40, 15.23, 15.37, 15.33, 15.29, 15.43, 15.26, 15.36, 15.31, 15.41, 15.32, 15.24,
    15.40, 15.28, 15.42, 15.23, 15.34, 15.26, 15.37, 15.32, 15.20, 15.39, 15.30, 15.36, 15.25, 15.41, 15.29, 15.45, 15.38, 15.24, 15.35, 15.27,
    15.24, 15.36, 15.30, 15.40, 15.21, 15.34, 15.27, 15.39, 15.32, 15.25, 15.41, 15.28, 15.37, 15.23, 15.33, 15.16, 15.38, 15.17, 15.22, 15.35,
    15.33, 15.21, 15.36, 15.28, 15.37, 15.25, 15.40, 15.23, 15.29, 15.34, 15.22, 15.32, 15.39, 15.26, 15.30, 15.38, 15.20, 15.35, 15.27, 15.31,
    15.24, 15.31, 15.21, 15.35, 15.30, 15.15, 15.23, 15.26, 15.07, 15.19, 15.33, 15.29, 15.42, 15.39, 15.22, 15.32, 15.27, 15.37, 15.28, 15.20,
    15.35, 15.23, 15.37, 15.18, 15.29, 15.21, 15.32, 15.27, 15.17, 15.34, 15.25, 15.31, 15.20, 15.36, 15.24, 15.28, 15.33, 15.19, 15.30, 15.22,
    15.18, 15.30, 15.24, 15.34, 15.15, 15.28, 15.21, 15.33, 15.13, 15.19, 15.35, 15.22, 15.31, 15.10, 15.27, 15.20, 15.32, 15.25, 15.16, 15.29,
    15.26, 15.14, 15.29, 15.21, 15.30, 15.09, 15.33, 15.16, 15.22, 15.27, 15.06, 15.25, 15.32, 15.04, 15.23, 15.31, 15.13, 15.28, 15.20, 15.24,
    15.20, 15.27, 15.17, 15.31, 15.26, 15.34, 15.19, 15.22, 15.32, 15.15, 15.29, 15.25, 15.21, 15.35, 15.18, 15.28, 15.23, 15.33, 15.24, 15.16,
    15.35, 15.23, 15.37, 15.18, 15.29, 15.21, 15.32, 15.27, 15.17, 15.34, 15.40, 15.31, 15.20, 15.36, 15.24, 15.28, 15.33, 15.19, 15.30, 15.22,
    15.21, 15.33, 15.27, 15.37, 15.18, 15.45, 15.24, 15.36, 15.29, 15.22, 15.38, 15.25, 15.34, 15.20, 15.30, 15.23, 15.35, 15.28, 15.19, 15.32,
    15.42, 15.20, 15.35, 15.27, 15.36, 15.24, 15.39, 15.22, 15.28, 15.33, 15.43, 15.31, 15.38, 15.25, 15.29, 15.37, 15.19, 15.34, 15.26, 15.30,
    15.26, 15.33, 15.23, 15.37, 15.32, 15.40, 15.25, 15.28, 15.38, 15.21, 15.35, 15.31, 15.50, 15.41, 15.24, 15.34, 15.54, 15.39, 15.55, 15.22,
    15.42, 15.30, 15.44, 15.25, 15.36, 15.48, 15.39, 15.34, 15.24, 15.41, 15.49, 15.38, 15.27, 15.43, 15.31, 15.35, 15.40, 15.26, 15.37, 15.29,
    15.27, 15.39, 15.33, 15.14, 15.24, 15.46, 15.30, 15.42, 15.35, 15.28, 15.22, 15.31, 15.40, 15.26, 15.36, 15.29, 15.41, 15.34, 15.25, 15.38,
    15.36, 15.24, 15.39, 15.31, 15.40,
]

mode_titles = ["Mode 1", "Mode 2", "Mode 3", "Mode 4", "Mode 5", "Mode 6"]
undamaged_series = [mode1_undamaged, mode2_undamaged, mode3_undamaged,
                    mode4_undamaged, mode5_undamaged, mode6_undamaged]
damaged_series = [mode1_damaged, mode2_damaged, mode3_damaged,
                  mode4_damaged, mode5_damaged, mode6_damaged]
damaged_colors = ["#ff0000", "#000080", "#008000", "#000000", "#008080", "#800080"]
undamaged_color = "#808080"

y_domains = [
    [3.6, 4.4],
    [5.453, 6.257],
    [6.59, 7.387],
    [9.665, 10.465],
    [12.007, 12.812],
    [14.905, 15.705],
]
y_ticks = [
    [3.6, 3.7, 3.8, 3.9, 4.0, 4.1, 4.2, 4.3],
    [5.5, 5.6, 5.7, 5.8, 5.9, 6.0, 6.1, 6.2],
    [6.6, 6.7, 6.8, 6.9, 7.0, 7.1, 7.2, 7.3],
    [9.7, 9.8, 9.9, 10.0, 10.1, 10.2, 10.3, 10.4],
    [12.1, 12.2, 12.3, 12.4, 12.5, 12.6, 12.7, 12.8],
    [15.0, 15.1, 15.2, 15.3, 15.4, 15.5, 15.6, 15.7],
]
# top tick label of modes 5 and 6 sits at the very top edge: keep it inside
y_label_flush = [False, False, False, False, 4, 4]

PW, PH = 215, 204


def panel(title, und, dam, color, domain, ticks, flush):
    df = pd.DataFrame({
        "iteration": list(range(len(und))) + list(range(len(dam))),
        "frequency": und + dam,
        "series": ["Undamaged"] * len(und) + ["Damaged"] * len(dam),
    })
    return alt.Chart(df, title=alt.TitleParams(title, offset=-1)).mark_circle(
        size=11, opacity=1
    ).encode(
        x=alt.X("iteration:Q",
                scale=alt.Scale(domain=[0, 375], nice=False, zero=False),
                axis=alt.Axis(values=x_ticks, format="d", labelFlush=False,
                              title="Model Iteration")),
        y=alt.Y("frequency:Q",
                scale=alt.Scale(domain=domain, nice=False, zero=False),
                axis=alt.Axis(values=ticks, format=".1f", labelFlush=flush,
                              title="Frequency (Hz)")),
        color=alt.Color("series:N",
                        scale=alt.Scale(domain=["Undamaged", "Damaged"],
                                        range=[undamaged_color, color]),
                        legend=alt.Legend(title=None, orient="none",
                                          legendX=114, legendY=167)),
    ).properties(width=PW, height=PH)


charts = [
    panel(mode_titles[i], undamaged_series[i], damaged_series[i],
          damaged_colors[i], y_domains[i], y_ticks[i], y_label_flush[i])
    for i in range(6)
]

chart = alt.concat(
    *charts, columns=2, spacing={"row": 45, "column": 52}
).resolve_scale(
    color="independent", x="independent", y="independent"
).properties(
    bounds="flush",
    padding={"left": 0, "top": 1, "right": 0, "bottom": 0},
).configure_view(
    stroke="#000000", strokeWidth=0.8
).configure_axis(
    labelFont="DejaVu Sans", labelFontSize=10, labelColor="black",
    titleFont="DejaVu Sans", titleFontSize=11.5, titleFontWeight="normal",
    titleColor="black", gridColor="#b0b0b0", gridWidth=0.8,
    tickColor="black", tickWidth=0.8, tickSize=3, labelPadding=2, domain=False,
).configure_axisX(
    titlePadding=3
).configure_axisY(
    titlePadding=0, labelPadding=1.5
).configure_title(
    font="DejaVu Sans", fontSize=12.5, fontWeight="normal", color="black",
    offset=0, anchor="middle"
).configure_legend(
    labelFont="DejaVu Sans", labelFontSize=10, labelColor="black",
    symbolType="circle", symbolSize=14, symbolStrokeWidth=0, symbolOpacity=1,
    padding=5, rowPadding=3, labelOffset=14, symbolOffset=5,
    fillColor="rgba(255,255,255,0.8)", strokeColor="#cccccc", cornerRadius=3,
)

chart.save("out.html", embed_options={"renderer": "svg", "actions": False})
